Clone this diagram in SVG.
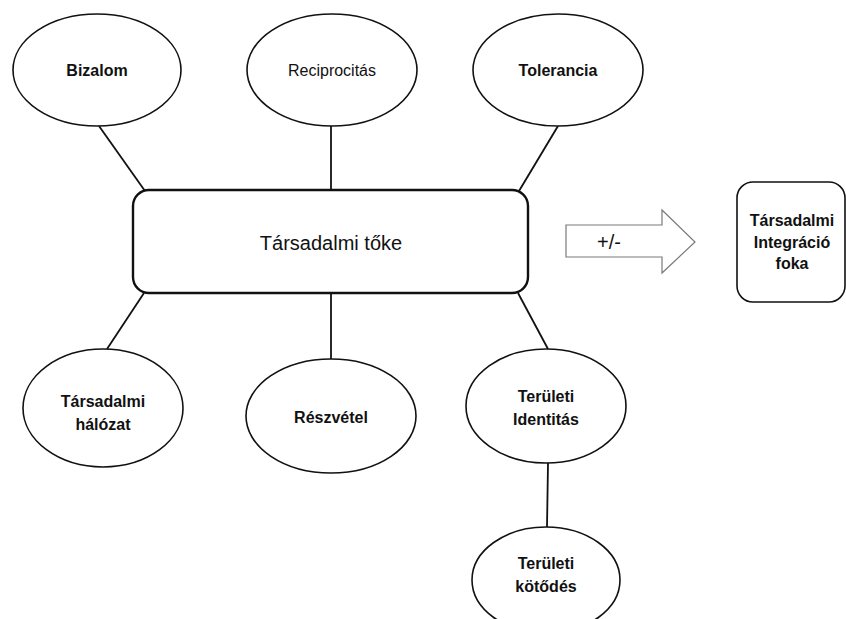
<svg xmlns="http://www.w3.org/2000/svg" width="846" height="619" viewBox="0 0 846 619">
  <style>
    .bubble { fill: #ffffff; stroke: #111111; stroke-width: 1.6; }
    .core { fill: #ffffff; stroke: #111111; stroke-width: 2.4; }
    .box { fill: #ffffff; stroke: #111111; stroke-width: 1.6; }
    .link { stroke: #111111; stroke-width: 1.8; fill: none; }
    .arrow { fill: #ffffff; stroke: #7a7a7a; stroke-width: 1.2; }
    text { font-family: "Liberation Sans", Arial, sans-serif; fill: #111111; text-anchor: middle; }
    .b { font-size: 16px; font-weight: bold; }
    .r { font-size: 16px; }
    .big { font-size: 20px; }
  </style>
  <rect width="846" height="619" fill="#ffffff"/>

  <g id="connectors">
    <line class="link" x1="99" y1="126" x2="145" y2="191"/>
    <line class="link" x1="331" y1="126" x2="331" y2="190"/>
    <line class="link" x1="558" y1="126" x2="519" y2="191"/>
    <line class="link" x1="144" y1="293" x2="107" y2="349"/>
    <line class="link" x1="331" y1="293" x2="331" y2="359"/>
    <line class="link" x1="518" y1="293" x2="548" y2="349"/>
    <line class="link" x1="548" y1="463" x2="547" y2="527"/>
  </g>

  <g id="bizalom">
    <ellipse class="bubble" cx="97" cy="70" rx="84" ry="56"/>
    <text class="b" x="97" y="76">Bizalom</text>
  </g>
  <g id="reciprocitas">
    <ellipse class="bubble" cx="332" cy="70" rx="85" ry="56"/>
    <text class="r" x="332" y="76">Reciprocitás</text>
  </g>
  <g id="tolerancia">
    <ellipse class="bubble" cx="558" cy="70" rx="85" ry="56"/>
    <text class="b" x="558" y="76">Tolerancia</text>
  </g>

  <g id="tarsadalmi-toke">
    <rect class="core" x="133" y="190" width="395" height="103" rx="16"/>
    <text class="big" x="331" y="250">Társadalmi tőke</text>
  </g>

  <g id="hatas">
    <polygon class="arrow" points="566,225 662,225 662,210 695,242 662,273 662,257 566,257"/>
    <text class="big" x="609" y="249">+/-</text>
  </g>

  <g id="integracio">
    <rect class="box" x="737" y="182" width="108" height="120" rx="16"/>
    <text class="b" x="792" y="226">Társadalmi</text>
    <text class="b" x="792" y="248">Integráció</text>
    <text class="b" x="792" y="269">foka</text>
  </g>

  <g id="tarsadalmi-halozat">
    <ellipse class="bubble" cx="103" cy="408" rx="80" ry="59"/>
    <text class="b" x="103" y="407">Társadalmi</text>
    <text class="b" x="103" y="430">hálózat</text>
  </g>
  <g id="reszvetel">
    <ellipse class="bubble" cx="331" cy="416" rx="85" ry="57"/>
    <text class="b" x="331" y="423">Részvétel</text>
  </g>
  <g id="teruleti-identitas">
    <ellipse class="bubble" cx="546" cy="406" rx="80" ry="57"/>
    <text class="b" x="546" y="402">Területi</text>
    <text class="b" x="546" y="425">Identitás</text>
  </g>
  <g id="teruleti-kotodes">
    <ellipse class="bubble" cx="546" cy="580" rx="74" ry="53"/>
    <text class="b" x="546" y="569">Területi</text>
    <text class="b" x="546" y="592">kötődés</text>
  </g>
</svg>
